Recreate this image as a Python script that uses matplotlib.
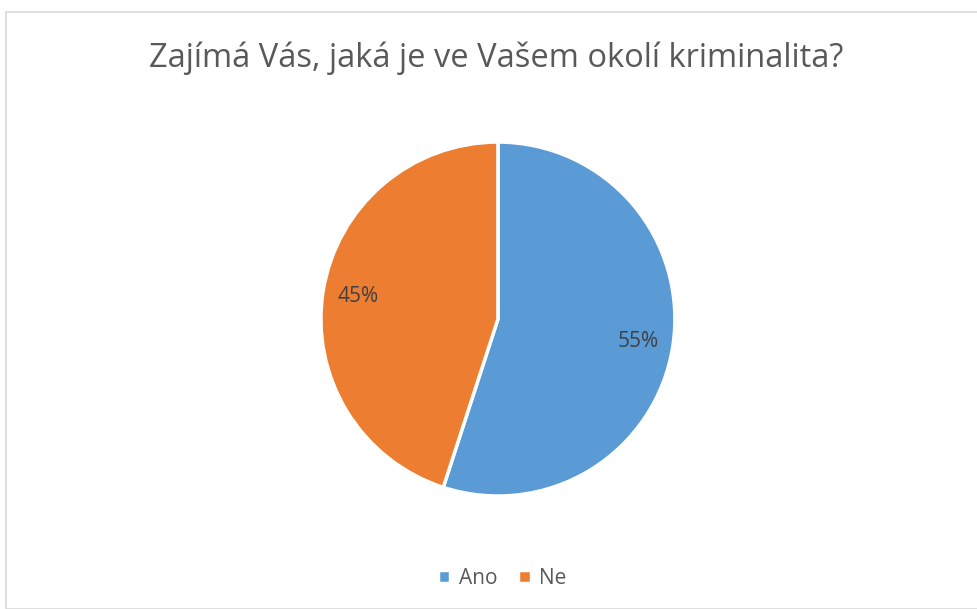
import matplotlib.pyplot as plt
from matplotlib.patches import Rectangle

# dane
labels = ['Ano', 'Ne']
values = [55, 45]
colors = ['#5B9BD5', '#ED7D31']

plt.rcParams['font.family'] = ['Open Sans', 'DejaVu Sans']

fig = plt.figure(figsize=(9.77, 6.09), dpi=100)

# ramka wykresu
fig.patches.append(Rectangle((6 / 977, 0), 1.0, 1 - 12 / 609, transform=fig.transFigure,
                             fill=False, edgecolor='#D9D9D9', linewidth=1.2))

fig.text(496 / 977, 1 - 58 / 609, 'Zajímá Vás, jaká je ve Vašem okolí kriminalita?',
         ha='center', va='center', fontsize=23.5, color='#595959')

ax = fig.add_axes([0.3285, 0.1855, 0.3623, 0.5813])
wedges, texts, autotexts = ax.pie(values, colors=colors, startangle=90, counterclock=False,
                                  autopct='%1.0f%%', pctdistance=0.8,
                                  wedgeprops=dict(edgecolor='white', linewidth=2.5),
                                  textprops=dict(fontsize=15, color='#404040'))
ax.set_xlim(-1.0, 1.0)
ax.set_ylim(-1.0, 1.0)
ax.set_aspect('equal')

fig.legend(wedges, labels, loc='center', bbox_to_anchor=(0.514, 1 - 578 / 609), ncol=2,
           frameon=False, fontsize=15, handlelength=0.6, handleheight=0.6,
           handletextpad=0.4, columnspacing=1.0, labelcolor='#595959')

plt.savefig('out.png', dpi=100)
